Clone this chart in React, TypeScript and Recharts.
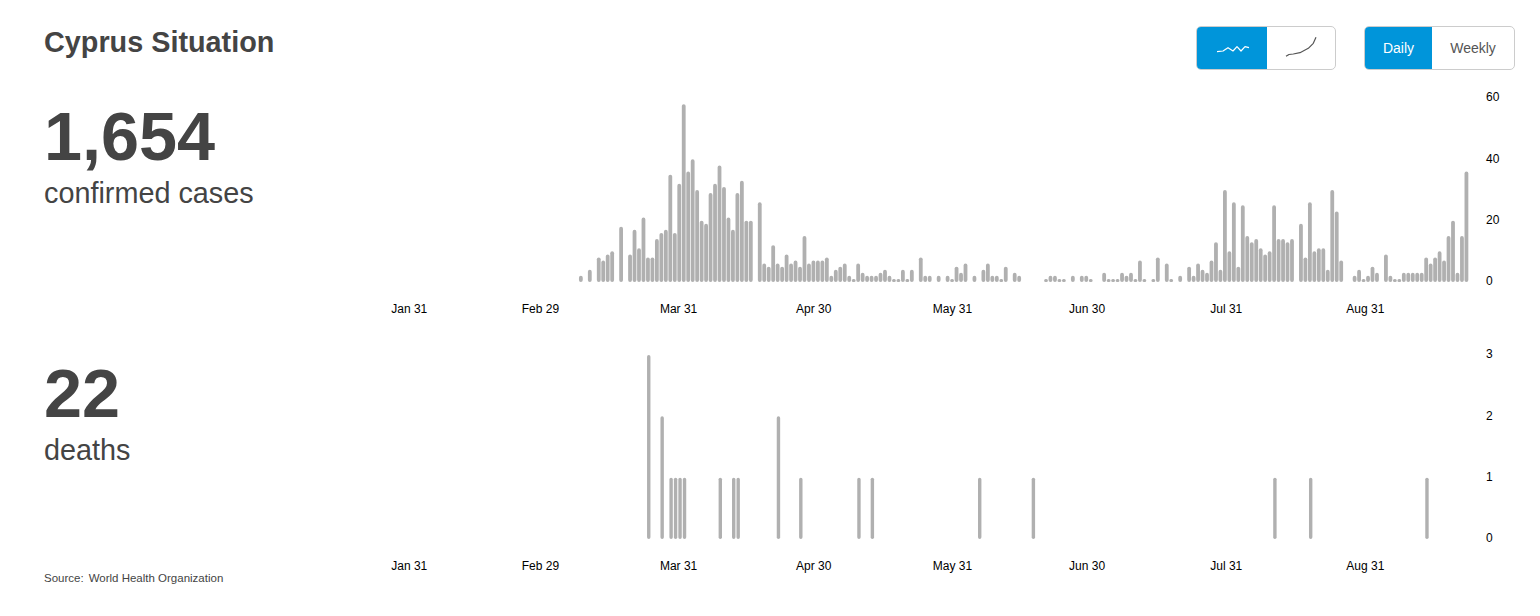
import React from 'react';
import { BarChart, Bar, XAxis, YAxis } from 'recharts';

const xTicks = ['Jan 31', 'Feb 29', 'Mar 31', 'Apr 30', 'May 31', 'Jun 30', 'Jul 31', 'Aug 31'];
const months = [
  ['Jan', 31], ['Feb', 29], ['Mar', 31], ['Apr', 30], ['May', 31], ['Jun', 30], ['Jul', 31], ['Aug', 31], ['Sep', 30],
] as const;

// one value per day, starting on Jan 31
const dailyCases = [
  0, 0, 0, 0, 0, 0, 0, 0, 0, 0, 0, 0, 0, 0, 0, 0, 0, 0, 0, 0, 0, 0, 0, 0, 0, 0, 0, 0, 0, 0,
  0, 0, 0, 0, 0, 0, 0, 0, 2, 0, 4, 0, 8, 7, 9, 10, 0, 18, 0, 9, 17, 11, 21, 8, 8, 14, 16, 17, 35, 16,
  32, 58, 36, 40, 30, 20, 19, 29, 32, 38, 31, 21, 17, 29, 33, 20, 20, 0, 26, 6, 5, 12, 6, 5, 9, 6, 7, 5, 15, 6,
  7, 7, 7, 8, 2, 4, 5, 6, 2, 1, 6, 3, 2, 2, 2, 3, 4, 2, 1, 1, 4, 1, 4, 0, 8, 2, 2, 0, 2, 0,
  2, 1, 5, 3, 6, 0, 2, 0, 4, 6, 2, 2, 1, 5, 0, 3, 2, 0, 0, 0, 0, 0, 1, 2, 2, 1, 1, 0, 2, 0,
  2, 2, 1, 0, 0, 3, 1, 1, 1, 3, 2, 3, 1, 7, 1, 0, 1, 8, 0, 6, 1, 0, 2, 0, 5, 2, 6, 4, 3, 7,
  13, 4, 30, 10, 26, 5, 25, 15, 13, 14, 11, 9, 10, 25, 14, 14, 13, 14, 0, 19, 8, 26, 10, 11, 11, 4, 30, 23, 7, 0,
  0, 2, 4, 1, 2, 5, 3, 0, 9, 2, 1, 1, 3, 3, 3, 3, 3, 8, 6, 8, 10, 7, 15, 20, 3, 15, 36,
];

// [day index from Jan 31, deaths]
const deathDays = [53, 56, 58, 59, 60, 61, 69, 72, 73, 82, 87, 100, 103, 127, 139, 193, 201, 227];
const deathCounts = [3, 2, 1, 1, 1, 1, 1, 1, 1, 2, 1, 1, 1, 1, 1, 1, 1, 1];

const caseTicks = [0, 20, 40, 60];
const deathTicks = [0, 1, 2, 3];

const dayLabels: string[] = [];
dayLabels.push('Jan 31');
months.slice(1).forEach(([name, len]) => {
  for (let d = 1; d <= len; d++) dayLabels.push(`${name} ${d}`);
});

const caseData = dailyCases.map((value, i) => ({ day: dayLabels[i], value }));
const deathData = dailyCases.map((_, i) => {
  const at = deathDays.indexOf(i);
  return { day: dayLabels[i], value: at >= 0 ? deathCounts[at] : 0 };
});

const FONT = 'Arial, "Liberation Sans", sans-serif';
const GREY = '#444444';
const BLUE = '#0095da';
const BAR = '#b0b0b0';

// small nudges so the date labels sit where the reference has them
const labelNudge = [-2, -0.5, -1, 0, 0, 0.5, 1, 1.5];

const abs = (left: number, top: number, extra: React.CSSProperties = {}): React.CSSProperties => ({
  position: 'absolute',
  left,
  top,
  whiteSpace: 'nowrap',
  ...extra,
});

const DateTick = ({ x, y, payload }: any) => (
  <text
    x={x + (labelNudge[xTicks.indexOf(payload.value)] || 0)}
    y={y}
    dy="0.71em"
    textAnchor="middle"
    fontSize={12}
    fontFamily={FONT}
    fill="#000"
  >
    {payload.value}
  </text>
);

const DailyChart = ({ data, ticks, max, top, barSize }: any) => (
  <div style={abs(0, top)}>
    <BarChart
      width={1540}
      height={232}
      data={data}
      margin={{ top: 8, right: 22, bottom: 0, left: 409 }}
      barCategoryGap={0}
    >
      <XAxis
        dataKey="day"
        ticks={xTicks}
        interval={0}
        height={40}
        axisLine={false}
        tickLine={false}
        tickMargin={16}
        tick={DateTick}
      />
      <YAxis
        orientation="right"
        width={49}
        domain={[0, max]}
        ticks={ticks}
        axisLine={false}
        tickLine={false}
        tickMargin={11}
        tick={{ fontSize: 12, fill: '#000', fontFamily: FONT, textAnchor: 'start', dy: -1 }}
      />
      <Bar dataKey="value" fill={BAR} barSize={barSize} radius={[2, 2, 2, 2]} isAnimationActive={false} />
    </BarChart>
  </div>
);

const Toggle = ({ left, width, split, children }: any) => (
  <div
    style={abs(left, 26, {
      width,
      height: 44,
      boxSizing: 'border-box',
      border: '1px solid #cccccc',
      borderRadius: 5,
      overflow: 'hidden',
      background: '#fff',
    })}
  >
    <div style={{ position: 'absolute', left: 0, top: 0, bottom: 0, width: split, background: BLUE }} />
    {children}
  </div>
);

export default function App() {
  return (
    <div style={{ position: 'absolute', left: 0, top: 0, width: 1540, height: 616, background: '#fff', fontFamily: FONT, overflow: 'hidden' }}>
      <div style={abs(44, 25, { fontSize: 28.8, lineHeight: '34px', fontWeight: 700, color: GREY })}>Cyprus Situation</div>

      <div style={abs(44, 96, { fontSize: 68.4, lineHeight: '80px', fontWeight: 700, color: GREY })}>1,654</div>
      <div style={abs(44, 177, { fontSize: 28.8, lineHeight: '32px', color: GREY })}>confirmed cases</div>

      <div style={abs(44, 353, { fontSize: 68.4, lineHeight: '80px', fontWeight: 700, color: GREY })}>22</div>
      <div style={abs(44, 434, { fontSize: 28.8, lineHeight: '32px', color: GREY })}>deaths</div>

      <div style={abs(44, 571, { fontSize: 11.5, lineHeight: '14px', color: GREY })}>
        Source:<span style={{ marginLeft: 5 }}>World Health Organization</span>
      </div>

      <Toggle left={1196} width={140} split={70}>
        <svg width={140} height={42} style={{ position: 'absolute', left: 0, top: 0 }}>
          <path d="M20 24.7 L26 24 L31 20.7 L36 24 L40 19.7 L44 24 L48 19.7 L52 20.7" fill="none" stroke="#fff" strokeWidth={1.2} strokeLinejoin="round" />
          <path d="M89 29.3 L92 27.5 L96.3 27 L103 25.7 L111.3 21.3 L116.3 16.3 L119 10.3" fill="none" stroke="#555" strokeWidth={1.2} strokeLinejoin="round" />
        </svg>
      </Toggle>
      <Toggle left={1364} width={151} split={67}>
        <div style={abs(0, 0, { width: 67, lineHeight: '42px', fontSize: 14, color: '#fff', textAlign: 'center' })}>Daily</div>
        <div style={abs(67, 0, { width: 82, lineHeight: '42px', fontSize: 14, color: '#555', textAlign: 'center' })}>Weekly</div>
      </Toggle>

      <DailyChart data={caseData} ticks={caseTicks} max={60} top={90} barSize={3.8} />
      <DailyChart data={deathData} ticks={deathTicks} max={3} top={347} barSize={3.4} />
    </div>
  );
}
